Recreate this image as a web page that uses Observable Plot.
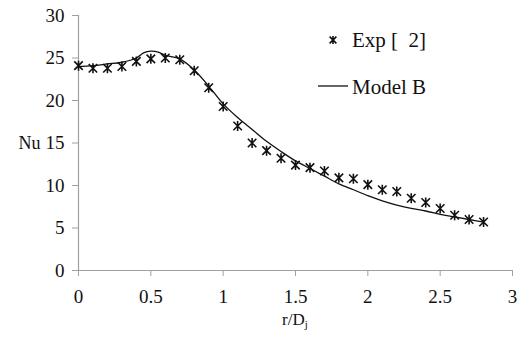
<!DOCTYPE html>
<html>
<head>
<meta charset="utf-8">
<script src="https://cdn.jsdelivr.net/npm/d3@7"></script>
<script src="https://cdn.jsdelivr.net/npm/@observablehq/plot@0.6"></script>
<style>
  body { margin: 0; background: #fff; }
  #wrap { position: relative; width: 523px; height: 338px; font-family: "Liberation Serif", "Times New Roman", serif; }
  #xlab { position: absolute; left: 282px; top: 311px; font-size: 17px; color: #111; line-height: 1; }
  #xlab sub { font-size: 11px; vertical-align: -3px; }
</style>
</head>
<body>
<div id="wrap"><div id="xlab">r/D<sub>j</sub></div></div>
<script>
const expX = [0,0.1,0.2,0.3,0.4,0.5,0.6,0.7,0.8,0.9,1.0,1.1,1.2,1.3,1.4,1.5,1.6,1.7,1.8,1.9,2.0,2.1,2.2,2.3,2.4,2.5,2.6,2.7,2.8];
const expNu = [24.1,23.8,23.8,24.0,24.6,24.9,25.0,24.8,23.5,21.5,19.3,17.0,15.0,14.1,13.2,12.4,12.1,11.7,10.9,10.8,10.1,9.5,9.3,8.5,8.0,7.3,6.5,6.0,5.7];
const modelX = [0,0.1,0.2,0.3,0.4,0.45,0.5,0.55,0.6,0.7,0.8,0.9,1.0,1.1,1.2,1.3,1.4,1.5,1.6,1.7,1.8,1.9,2.0,2.1,2.2,2.3,2.4,2.5,2.6,2.7,2.8];
const modelNu = [24.0,24.1,24.3,24.5,25.0,25.6,25.8,25.7,25.3,24.9,23.6,21.7,19.6,18.0,16.6,15.2,14.0,12.9,12.0,11.1,10.2,9.5,8.8,8.2,7.7,7.3,7.0,6.6,6.3,6.0,5.7];
const xTicks = [0,0.5,1,1.5,2,2.5,3];
const yTicks = [0,5,10,15,20,25,30];
const legendLabels = ["Exp [  2]", "Model B"];

const expData = expX.map((x, i) => ({x, y: expNu[i]}));
const modelData = modelX.map((x, i) => ({x, y: modelNu[i]}));

const star = {
  draw(context, size) {
    const r = Math.sqrt(size / Math.PI);
    const d = r * 0.85;
    context.moveTo(0, -r); context.lineTo(0, r);
    context.moveTo(-d, -d); context.lineTo(d, d);
    context.moveTo(-d, d); context.lineTo(d, -d);
  }
};

const serif = "'Liberation Serif', 'Times New Roman', serif";
const gray = "#a0a0a0";

const chart = Plot.plot({
  width: 523,
  height: 338,
  marginLeft: 78,
  marginRight: 11,
  marginTop: 15,
  marginBottom: 68,
  style: {background: "#fff", color: "#111", fontFamily: serif, fontSize: "19px"},
  x: {domain: [0, 3]},
  y: {domain: [0, 30]},
  marks: [
    Plot.ruleY([0], {stroke: gray, strokeWidth: 1.2}),
    Plot.ruleX([0], {stroke: gray, strokeWidth: 1.2}),
    Plot.axisX({ticks: xTicks, tickSize: 6, tickPadding: 13, stroke: gray, fill: "#111", fontSize: 19, fontFamily: serif, label: null, tickFormat: d => String(d)}),
    Plot.axisY({ticks: yTicks, tickSize: 6, tickPadding: 8, stroke: gray, fill: "#111", fontSize: 19, fontFamily: serif, label: null}),
    Plot.text(["Nu"], {frameAnchor: "left", textAnchor: "start", dx: -60, fontSize: 18, fontFamily: serif, fill: "#111"}),
    Plot.line(modelData, {x: "x", y: "y", stroke: "#111", strokeWidth: 1.3, curve: "catmull-rom"}),
    Plot.dot(expData, {x: "x", y: "y", symbol: star, r: 5, stroke: "#111", strokeWidth: 1.6})
  ]
});

document.getElementById("wrap").prepend(chart);

const svg = d3.select(chart);
svg.selectAll("text").style("font-family", serif);

// legend, drawn into the plot's svg
const lg = svg.append("g").attr("text-anchor", "start").attr("fill", "#111").style("font-size", "21px").style("font-family", serif);
const s = lg.append("path").attr("transform", "translate(333,40)").attr("stroke", "#111").attr("stroke-width", 1.6).attr("fill", "none");
const p = d3.path(); star.draw(p, Math.PI * 16); s.attr("d", p.toString());
lg.append("text").attr("x", 352).attr("y", 47).attr("xml:space", "preserve").style("white-space", "pre").text(legendLabels[0]);
lg.append("line").attr("x1", 318).attr("x2", 348).attr("y1", 86).attr("y2", 86).attr("stroke", "#111").attr("stroke-width", 1.3);
lg.append("text").attr("x", 352).attr("y", 94).text(legendLabels[1]);
</script>
</body>
</html>
